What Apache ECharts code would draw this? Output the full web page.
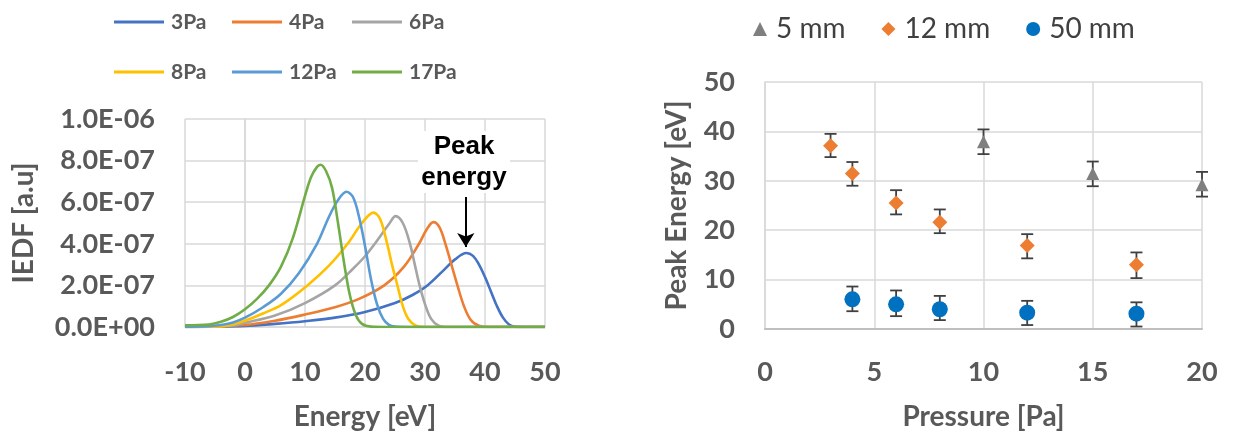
<!DOCTYPE html>
<html>
<head>
<meta charset="utf-8">
<script src="https://cdn.jsdelivr.net/npm/echarts@6.0.0/dist/echarts.min.js"></script>
<style>
html, body { margin: 0; padding: 0; background: #fff; }
#main { width: 1234px; height: 439px; }
</style>
</head>
<body>
<div id="main"></div>
<script>
// IEDF curves, energy in eV and IEDF in units of 1E-07
var e3 = [-10, 0, 5, 10, 15, 20, 25, 28, 30.4, 33, 35, 36.9, 38, 39, 40, 41, 42, 43, 44, 45, 47, 50];
var iedf3 = [0, 0.05, 0.15, 0.28, 0.45, 0.72, 1.15, 1.55, 2.0, 2.7, 3.25, 3.56, 3.42, 3.0, 2.4, 1.7, 1.0, 0.45, 0.12, 0.02, 0, 0];
var e4 = [-10, 0, 5, 10, 15, 19, 23.2, 26.5, 29, 30.3, 31.4, 32.4, 33.4, 34.4, 35.4, 36.5, 37.6, 39, 41, 50];
var iedf4 = [0, 0.1, 0.3, 0.6, 0.95, 1.35, 2.0, 2.9, 4.0, 4.7, 5.04, 4.8, 4.0, 3.0, 2.0, 1.0, 0.35, 0.06, 0, 0];
var e6 = [-10, -2, 0, 5, 10, 15, 18, 20, 22, 24, 25.1, 26.3, 27.5, 28.3, 29.1, 30, 31, 32.2, 34, 50];
var iedf6 = [0, 0.08, 0.2, 0.55, 1.15, 2.0, 2.8, 3.4, 4.15, 4.95, 5.33, 5.0, 4.0, 3.0, 2.0, 1.1, 0.4, 0.08, 0, 0];
var e8 = [-10, -4, -2, 0, 3, 6, 10.4, 14, 17.1, 19.5, 21.4, 22.5, 23.7, 24.5, 25.4, 26.3, 27.2, 28.4, 30, 50];
var iedf8 = [0, 0.03, 0.12, 0.3, 0.65, 1.05, 2.0, 2.95, 4.0, 5.0, 5.5, 5.2, 4.0, 3.0, 2.0, 1.0, 0.4, 0.08, 0, 0];
var e12 = [-10, -6, -4, -2, 0, 3, 6, 9, 12, 14, 15.5, 16.9, 18, 19, 20, 21, 22, 23, 24, 25, 28, 50];
var iedf12 = [0.02, 0.04, 0.1, 0.22, 0.45, 0.95, 1.6, 2.6, 4.0, 5.3, 6.1, 6.5, 6.25, 5.3, 3.9, 2.3, 1.1, 0.4, 0.1, 0.02, 0, 0];
var e17 = [-10, -6, -4, -2, 0, 2, 4, 6, 8, 10, 11, 12, 12.6, 13.5, 14.5, 15.5, 16.5, 17.5, 18.5, 19.5, 21, 24, 50];
var iedf17 = [0.08, 0.12, 0.25, 0.48, 0.85, 1.35, 2.0, 2.9, 4.3, 6.3, 7.2, 7.7, 7.8, 7.5, 6.7, 5.0, 3.1, 1.5, 0.55, 0.15, 0.02, 0, 0];

// peak energy vs pressure
var p5 = [10, 15, 20];
var peak5 = [37.9, 31.5, 29.2];
var peak5Lo = [35.4, 28.9, 26.8];
var peak5Hi = [40.4, 33.9, 31.8];
var p12 = [3, 4, 6, 8, 12, 17];
var peak12 = [37.1, 31.5, 25.5, 21.6, 16.9, 13.0];
var peak12Lo = [34.8, 29.0, 23.2, 19.4, 14.3, 10.3];
var peak12Hi = [39.5, 33.8, 28.1, 24.2, 19.2, 15.5];
var p50 = [4, 6, 8, 12, 17];
var peak50 = [6.0, 5.0, 4.0, 3.3, 3.1];
var peak50Lo = [3.6, 2.6, 1.8, 0.8, 0.5];
var peak50Hi = [8.6, 7.8, 6.7, 5.7, 5.4];

var FONT = 'Lato';
var GREY = '#595959';
var GRID = '#D9D9D9';

function pairs(xs, ys) {
    var out = [];
    for (var i = 0; i < xs.length; i++) out.push([xs[i], ys[i]]);
    return out;
}
function triples(xs, lo, hi) {
    var out = [];
    for (var i = 0; i < xs.length; i++) out.push([xs[i], lo[i], hi[i]]);
    return out;
}

function curve(name, xs, ys, color) {
    return {
        name: name,
        type: 'line',
        xAxisIndex: 0,
        yAxisIndex: 0,
        data: pairs(xs, ys),
        smooth: 0.35,
        symbol: 'none',
        clip: true,
        color: color,
        lineStyle: { color: color, width: 2.6 },
        silent: true
    };
}

function errorBars(xs, lo, hi) {
    return {
        type: 'custom',
        xAxisIndex: 1,
        yAxisIndex: 1,
        data: triples(xs, lo, hi),
        encode: { x: 0, y: [1, 2] },
        z: 1,
        silent: true,
        renderItem: function (params, api) {
            var top = api.coord([api.value(0), api.value(2)]);
            var bot = api.coord([api.value(0), api.value(1)]);
            var st = { stroke: '#404040', lineWidth: 1.8 };
            var w = 6;
            return {
                type: 'group',
                children: [
                    { type: 'line', shape: { x1: top[0], y1: top[1], x2: bot[0], y2: bot[1] }, style: st },
                    { type: 'line', shape: { x1: top[0] - w, y1: top[1], x2: top[0] + w, y2: top[1] }, style: st },
                    { type: 'line', shape: { x1: bot[0] - w, y1: bot[1], x2: bot[0] + w, y2: bot[1] }, style: st }
                ]
            };
        }
    };
}

function points(name, xs, ys, symbol, size, color) {
    return {
        name: name,
        type: 'scatter',
        xAxisIndex: 1,
        yAxisIndex: 1,
        data: pairs(xs, ys),
        symbol: symbol,
        symbolSize: size,
        z: 3,
        itemStyle: { color: color, opacity: 1 }
    };
}

function lineLegend(left, names) {
    return {
        orient: 'vertical',
        left: left,
        top: 5,
        itemGap: 26,
        itemWidth: 50,
        itemHeight: 3,
        icon: 'rect',
        selectedMode: false,
        data: names,
        textStyle: { fontFamily: FONT, fontSize: 21, fontWeight: 'bold', color: GREY, lineHeight: 24, padding: [0, 0, 0, 2] }
    };
}

var sciLabel = function (v) {
    var s = (v * 1e-7).toExponential(1).toUpperCase();
    return s.replace(/E([+-])(\d)$/, 'E$10$2');
};

var nameStyle = { fontFamily: FONT, fontSize: 28, fontWeight: 'bold', color: GREY };
var tickStyle = { fontFamily: FONT, fontSize: 27, fontWeight: 'bold', color: GREY };

var option = {
    backgroundColor: '#fff',
    animation: false,
    legend: [
        lineLegend(109, ['3Pa', '8Pa']),
        lineLegend(227, ['4Pa', '12Pa']),
        lineLegend(347, ['6Pa', '17Pa']),
        {
            orient: 'horizontal',
            left: 748,
            top: 9,
            itemGap: 36,
            itemWidth: 14,
            itemHeight: 14,
            selectedMode: false,
            data: ['5 mm', '12 mm', '50 mm'],
            textStyle: { fontFamily: FONT, fontSize: 28, color: '#404040', lineHeight: 30, padding: [0, 0, 0, 4] }
        }
    ],
    grid: [
        { left: 185, top: 119, width: 360, height: 208 },
        { left: 765, top: 82, width: 437, height: 247 }
    ],
    xAxis: [
        {
            gridIndex: 0,
            type: 'value',
            min: -10,
            max: 50,
            interval: 10,
            name: 'Energy [eV]',
            nameLocation: 'middle',
            nameGap: 76,
            nameTextStyle: nameStyle,
            axisLine: { show: true, lineStyle: { color: GRID, width: 1.5 } },
            axisTick: { show: false },
            axisLabel: Object.assign({ margin: 32 }, tickStyle),
            splitLine: { show: true, lineStyle: { color: GRID, width: 1.5 } }
        },
        {
            gridIndex: 1,
            type: 'value',
            min: 0,
            max: 20,
            interval: 5,
            name: 'Pressure [Pa]',
            nameLocation: 'middle',
            nameGap: 74,
            nameTextStyle: nameStyle,
            axisLine: { show: true, lineStyle: { color: '#BFBFBF', width: 2 } },
            axisTick: { show: false },
            axisLabel: Object.assign({ margin: 30 }, tickStyle),
            splitLine: { show: true, lineStyle: { color: GRID, width: 1.5 } }
        }
    ],
    yAxis: [
        {
            gridIndex: 0,
            type: 'value',
            min: 0,
            max: 10,
            interval: 2,
            name: 'IEDF [a.u]',
            nameLocation: 'middle',
            nameGap: 147,
            nameTextStyle: nameStyle,
            axisLine: { show: true, lineStyle: { color: GRID, width: 1.5 } },
            axisTick: { show: false },
            axisLabel: Object.assign({ margin: 30, formatter: sciLabel }, tickStyle),
            splitLine: { show: true, lineStyle: { color: GRID, width: 1.5 } }
        },
        {
            gridIndex: 1,
            type: 'value',
            min: 0,
            max: 50,
            interval: 10,
            name: 'Peak Energy [eV]',
            nameLocation: 'middle',
            nameGap: 74,
            nameTextStyle: nameStyle,
            axisLine: { show: true, lineStyle: { color: GRID, width: 1.5 } },
            axisTick: { show: false },
            axisLabel: Object.assign({ margin: 30 }, tickStyle),
            splitLine: { show: true, lineStyle: { color: GRID, width: 1.5 } }
        }
    ],
    graphic: [
        {
            type: 'text',
            left: 418,
            top: 131,
            z: 10,
            style: {
                text: 'Peak\nenergy',
                textAlign: 'center',
                fill: '#000',
                font: 'bold 26px "Liberation Sans", Arial, sans-serif',
                lineHeight: 31,
                width: 88,
                backgroundColor: '#fff',
                padding: [0, 2, 0, 2]
            }
        }
    ],
    series: [
        (function () {
            var s = curve('3Pa', e3, iedf3, '#4472C4');
            s.markLine = {
                silent: true,
                symbol: ['none', 'arrow'],
                symbolSize: [13, 14],
                label: { show: false },
                lineStyle: { color: '#000', width: 2, type: 'solid' },
                data: [[{ coord: [36.8, 6.25] }, { coord: [36.8, 3.85] }]]
            };
            return s;
        })(),
        curve('4Pa', e4, iedf4, '#ED7D31'),
        curve('6Pa', e6, iedf6, '#A5A5A5'),
        curve('8Pa', e8, iedf8, '#FFC000'),
        curve('12Pa', e12, iedf12, '#5B9BD5'),
        curve('17Pa', e17, iedf17, '#70AD47'),
        errorBars(p5, peak5Lo, peak5Hi),
        errorBars(p12, peak12Lo, peak12Hi),
        errorBars(p50, peak50Lo, peak50Hi),
        points('5 mm', p5, peak5, 'triangle', 13, '#7F7F7F'),
        points('12 mm', p12, peak12, 'diamond', 15, '#ED7D31'),
        points('50 mm', p50, peak50, 'circle', 16, '#0070C0')
    ]
};

var chart = echarts.init(document.getElementById('main'));
chart.setOption(option);
</script>
</body>
</html>
